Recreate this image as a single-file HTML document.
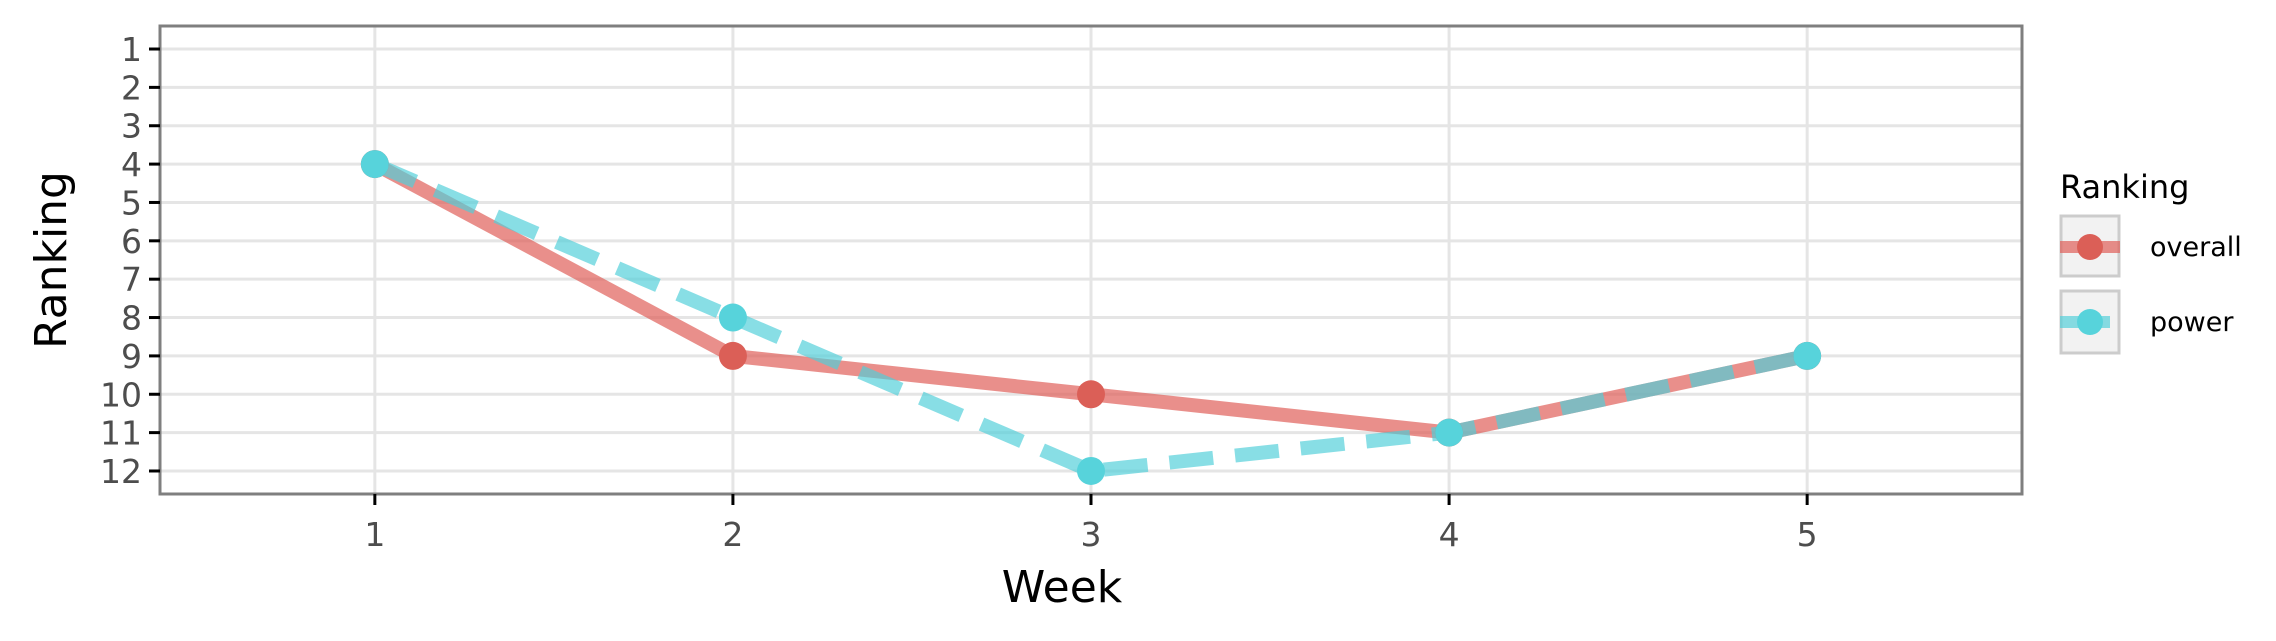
<!DOCTYPE html>
<html><head><meta charset="utf-8"><style>
html,body{margin:0;padding:0;background:#fff;}
svg{display:block;font-family:"DejaVu Sans","Liberation Sans",sans-serif;}
</style></head><body>
<svg id="chart" width="2276" height="641" viewBox="0 0 2276 641" xmlns="http://www.w3.org/2000/svg"></svg>
<script>
const weeks = [1, 2, 3, 4, 5];
const overallRank = [4, 9, 10, 11, 9];
const powerRank = [4, 8, 12, 11, 9];
const yTicks = [1,2,3,4,5,6,7,8,9,10,11,12];
const xTicks = [1,2,3,4,5];

const NS = 'http://www.w3.org/2000/svg';
const svg = document.getElementById('chart');
const L = 160, R = 2022, T = 26, B = 494;
const xMin = 0.4, xMax = 5.6, yMin = 0.4, yMax = 12.6;
const xs = v => L + (v - xMin) / (xMax - xMin) * (R - L);
const ys = v => T + (v - yMin) / (yMax - yMin) * (B - T);
function mk(tag, attrs, parent) {
  const e = document.createElementNS(NS, tag);
  for (const k in attrs) e.setAttribute(k, attrs[k]);
  (parent || svg).appendChild(e);
  return e;
}
yTicks.forEach(v => {
  const g = mk('line', {x1: L, x2: R, y1: ys(v), y2: ys(v), stroke: '#e5e5e5', 'stroke-width': 3});
  
  
});
xTicks.forEach(v => {
  const g = mk('line', {x1: xs(v), x2: xs(v), y1: T, y2: B, stroke: '#e5e5e5', 'stroke-width': 3});
  
  
});
const ptsO = weeks.map((w, i) => xs(w) + ',' + ys(overallRank[i])).join(' ');
const lo = mk('polyline', {points: ptsO, fill: 'none', stroke: '#e0605a', 'stroke-opacity': 0.7, 'stroke-width': 14});


const ptsP = weeks.map((w, i) => xs(w) + ',' + ys(powerRank[i])).join(' ');
const lp = mk('polyline', {points: ptsP, fill: 'none', stroke: '#4fcfd8', 'stroke-opacity': 0.68, 'stroke-width': 14, 'stroke-dasharray': '44 22'});


weeks.forEach((w, i) => {
  const c = mk('circle', {cx: xs(w), cy: ys(overallRank[i]), r: 14, fill: '#db5f57'});
  
  
});
weeks.forEach((w, i) => {
  const c = mk('circle', {cx: xs(w), cy: ys(powerRank[i]), r: 14, fill: '#57d3db'});
  
  
});
const bd = mk('rect', {x: L, y: T, width: R - L, height: B - T, fill: 'none', stroke: '#7f7f7f', 'stroke-width': 3});


yTicks.forEach(v => {
  const t = mk('line', {x1: L - 11, x2: L, y1: ys(v), y2: ys(v), stroke: '#000', 'stroke-width': 3});
  
  
  const tx = mk('text', {x: L - 18, y: ys(v) + 12, 'text-anchor': 'end', 'font-size': 33, fill: '#4d4d4d'});
  tx.textContent = v;
  
  
});
xTicks.forEach(v => {
  const t = mk('line', {x1: xs(v), x2: xs(v), y1: B, y2: B + 11, stroke: '#000', 'stroke-width': 3});
  
  
  const tx = mk('text', {x: xs(v), y: B + 52, 'text-anchor': 'middle', 'font-size': 33, fill: '#4d4d4d'});
  tx.textContent = v;
  
  
});
</script>
<svg style="position:absolute;left:0;top:0" width="2276" height="641">
  <text x="1062" y="602" text-anchor="middle" font-size="44" fill="#000" font-family="DejaVu Sans, Liberation Sans, sans-serif">Week</text>
  <text transform="translate(66,260) rotate(-90)" text-anchor="middle" font-size="44" fill="#000" font-family="DejaVu Sans, Liberation Sans, sans-serif">Ranking</text>
  <text x="2060" y="198" font-size="32" fill="#000" font-family="DejaVu Sans, Liberation Sans, sans-serif">Ranking</text>
  <g>
    <rect x="2061" y="216" width="58" height="60" fill="#f2f2f2" stroke="#cccccc" stroke-width="3"/>
    <line x1="2060" x2="2120" y1="247" y2="247" stroke="#e0605a" stroke-opacity="0.7" stroke-width="12"/>
    <circle cx="2090" cy="247" r="13" fill="#db5f57"/>
    <text x="2150" y="256" font-size="27" fill="#000" font-family="DejaVu Sans, Liberation Sans, sans-serif">overall</text>
  </g>
  <g>
    <rect x="2061" y="291" width="58" height="62" fill="#f2f2f2" stroke="#cccccc" stroke-width="3"/>
    <line x1="2060" x2="2110" y1="322" y2="322" stroke="#4fcfd8" stroke-opacity="0.68" stroke-width="12"/>
    <circle cx="2090" cy="322" r="13" fill="#57d3db"/>
    <text x="2150" y="331" font-size="27" fill="#000" font-family="DejaVu Sans, Liberation Sans, sans-serif">power</text>
  </g>
</svg>
</body></html>
